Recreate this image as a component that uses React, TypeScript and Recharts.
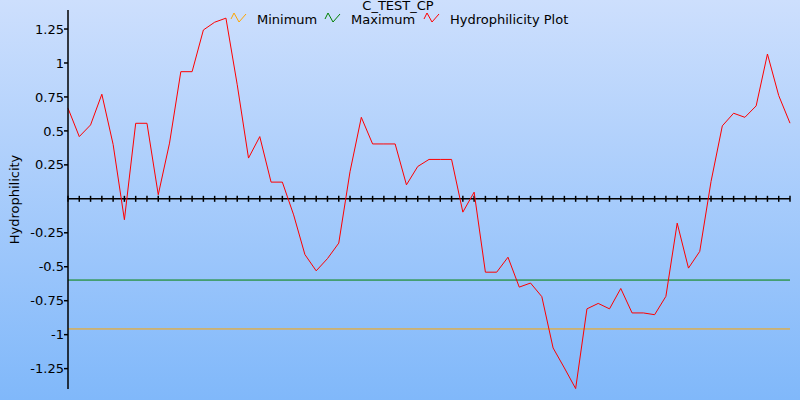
import React from 'react';
import { LineChart, Line, XAxis, YAxis, ReferenceLine } from 'recharts';

// residue positions along the sequence
const positions = Array.from({ length: 65 }, (_, i) => i + 1);

const hydrophilicity = [
    0.667, 0.458, 0.544, 0.77, 0.4, -0.154, 0.556, 0.556, 0.03, 0.41,
    0.936, 0.936, 1.243, 1.3, 1.33, 0.84, 0.3, 0.458, 0.123, 0.123,
    -0.118, -0.41, -0.53, -0.44, -0.326, 0.2, 0.6, 0.404, 0.404, 0.404,
    0.103, 0.238, 0.29, 0.29, 0.29, -0.098, 0.049, -0.54, -0.54, -0.43,
    -0.65, -0.62, -0.72, -1.098, -1.245, -1.397, -0.81, -0.77, -0.81, -0.66,
    -0.84, -0.84, -0.853, -0.718, -0.179, -0.51, -0.387, 0.127, 0.537, 0.63,
    0.6, 0.684, 1.066, 0.76, 0.557,
];

const minimum = -0.958;
const maximum = -0.598;

const yTicks = [1.25, 1, 0.75, 0.5, 0.25, -0.25, -0.5, -0.75, -1, -1.25];

const data = positions.map((pos, i) => ({ pos, value: hydrophilicity[i] }));

const FONT = '"DejaVu Sans", Verdana, sans-serif';

// zero line with a tick at every residue
const ZeroAxis = (props: any) => {
    const { x1, y1, x2 } = props;
    const step = (x2 - x1) / (positions.length - 1);
    return (
        <g>
            <line x1={x1} y1={y1} x2={x2} y2={y1} stroke="#000" strokeWidth={1.5} />
            {positions.map((p, i) => (
                <line key={p} x1={x1 + i * step} x2={x1 + i * step} y1={y1 - 3} y2={y1 + 3} stroke="#000" strokeWidth={1.5} />
            ))}
        </g>
    );
};

const Icon = ({ color, x }: { color: string; x: number }) => (
    <polyline points={`${x + 1},19 ${x + 4},13 ${x + 9},22 ${x + 16},14`} fill="none" stroke={color} strokeWidth={1} />
);

const Header = () => (
    <svg width={800} height={30} style={{ position: 'absolute', left: 0, top: 0, pointerEvents: 'none' }}>
        <text x={398} y={10} textAnchor="middle" fontFamily={FONT} fontSize={13} fill="#000">C_TEST_CP</text>
        <Icon color="#ffa500" x={230} />
        <text x={257} y={24} fontFamily={FONT} fontSize={13} fill="#000">Minimum</text>
        <Icon color="#008000" x={324} />
        <text x={351} y={24} fontFamily={FONT} fontSize={13} fill="#000">Maximum</text>
        <Icon color="#ff0000" x={423} />
        <text x={450} y={24} fontFamily={FONT} fontSize={13} fill="#000">Hydrophilicity Plot</text>
    </svg>
);

const App: React.FC = () => {
    return (
        <div
            style={{
                position: 'absolute',
                left: 0,
                top: 0,
                width: 800,
                height: 400,
                background: 'linear-gradient(#cddffd, #80b8fa)',
                fontFamily: FONT,
            }}
        >
            <LineChart width={800} height={400} data={data} margin={{ top: 10, right: 10, bottom: 11, left: 0 }}>
                <XAxis dataKey="pos" hide />
                <YAxis
                    domain={[-1.4, 1.39]}
                    ticks={yTicks}
                    interval={0}
                    width={68}
                    tickSize={4}
                    tickMargin={0}
                    stroke="#000"
                    strokeWidth={1.5}
                    tick={{ fill: '#000', fontSize: 13, fontFamily: FONT }}
                    label={{
                        value: 'Hydrophilicity',
                        angle: -90,
                        position: 'insideLeft',
                        offset: 14,
                        style: { textAnchor: 'middle', fill: '#000', fontSize: 13, fontFamily: FONT },
                    }}
                />
                <ReferenceLine y={minimum} stroke="#ffa500" strokeWidth={1} />
                <ReferenceLine y={maximum} stroke="#008000" strokeWidth={1} />
                <ReferenceLine y={0} shape={ZeroAxis} />
                <Line
                    type="linear"
                    dataKey="value"
                    stroke="#ff0000"
                    strokeWidth={1}
                    dot={false}
                    isAnimationActive={false}
                />
            </LineChart>
            <Header />
        </div>
    );
};

export default App;
